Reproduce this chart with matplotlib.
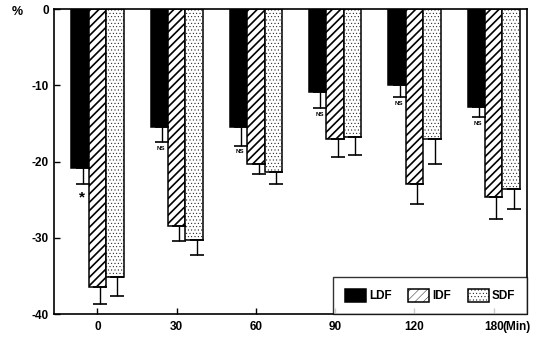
import matplotlib
matplotlib.use("Agg")
import matplotlib.pyplot as plt
import numpy as np

plt.rcParams['font.family'] = ['Liberation Sans', 'DejaVu Sans']
plt.rcParams['font.weight'] = 'bold'

times = ['0', '30', '60', '90', '120', '180']
x_unit = '(Min)'
series = ['LDF', 'IDF', 'SDF']
ldf = [-20.9, -15.5, -15.5, -10.9, -10.0, -12.9]
idf = [-36.4, -28.5, -20.3, -17.0, -22.9, -24.7]
sdf = [-35.2, -30.3, -21.4, -16.8, -17.0, -23.6]
ldf_err = [2.1, 1.9, 2.4, 2.1, 1.5, 1.3]
idf_err = [2.3, 1.9, 1.3, 2.4, 2.7, 2.8]
sdf_err = [2.4, 1.9, 1.5, 2.4, 3.3, 2.6]
ldf_notes = ['*', 'NS', 'NS', 'NS', 'NS', 'NS']

fig = plt.figure(figsize=(5.49, 3.38), dpi=100)
ax = fig.add_axes([0.098, 0.071, 0.862, 0.902])

x = np.arange(len(times))
w = 0.22
styles = [dict(color='black', hatch=None, hlw=1.0),
          dict(color='white', hatch='////', hlw=1.2),
          dict(color='white', hatch='.....', hlw=0.3)]
vals = [ldf, idf, sdf]
errs = [ldf_err, idf_err, sdf_err]
for i, (name, v, e, st) in enumerate(zip(series, vals, errs, styles)):
    xs = x + (i - 1) * w
    with plt.rc_context({'hatch.linewidth': st['hlw']}):
        bars = ax.bar(xs, v, width=w, facecolor=st['color'], edgecolor='black',
                      hatch=st['hatch'], linewidth=1.1, label=name, zorder=2)
        for b in bars:
            if hasattr(b, 'set_hatch_linewidth'):
                b.set_hatch_linewidth(st['hlw'])
    lower = np.array(e)
    ax.errorbar(xs + w * 0.15, v, yerr=[lower, np.zeros_like(lower)], fmt='none',
                ecolor='black', elinewidth=1.0, capsize=5, capthick=1.2, zorder=3)

for i, note in enumerate(ldf_notes):
    xpos = x[i] - w + w * 0.1
    ypos = ldf[i] - ldf_err[i] - 0.5
    if note == '*':
        ax.text(xpos, ypos - 0.3, note, ha='center', va='top', fontsize=11, fontweight='bold')
    else:
        ax.text(xpos, ypos, note, ha='center', va='top', fontsize=4.5, fontweight='bold')

ax.set_ylim(-40, 0)
ax.set_xlim(-0.55, 5.42)
ax.set_yticks([0, -10, -20, -30, -40])
ax.set_yticklabels(['0', '-10', '-20', '-30', '-40'], fontsize=8.5, fontweight='bold')
ax.set_xticks(x)
ax.set_xticklabels(times, fontsize=8.5, fontweight='bold')
ax.tick_params(direction='in', length=4, width=1)
ax.tick_params(axis='x', pad=5)
for s in ax.spines.values():
    s.set_linewidth(1.2)

# unit label right after the last tick label
ax.annotate(x_unit, xy=(x[-1], 0), xycoords=('data', 'axes fraction'),
            xytext=(6, -5), textcoords='offset points', ha='left', va='top',
            fontsize=8.5, fontweight='bold', annotation_clip=False)

fig.text(0.022, 0.965, '%', fontsize=9, fontweight='bold', ha='left', va='center')

with plt.rc_context({'hatch.linewidth': 0.3}):
    leg = ax.legend(loc='lower right', ncol=3, frameon=True, fancybox=False,
                    edgecolor='black', fontsize=8.5, handlelength=1.8, handleheight=1.3,
                    columnspacing=1.4, handletextpad=0.25, borderaxespad=0.0,
                    borderpad=1.0)
leg.get_frame().set_linewidth(1.0)
for t in leg.get_texts():
    t.set_fontweight('bold')

fig.savefig('out.png', dpi=100)
